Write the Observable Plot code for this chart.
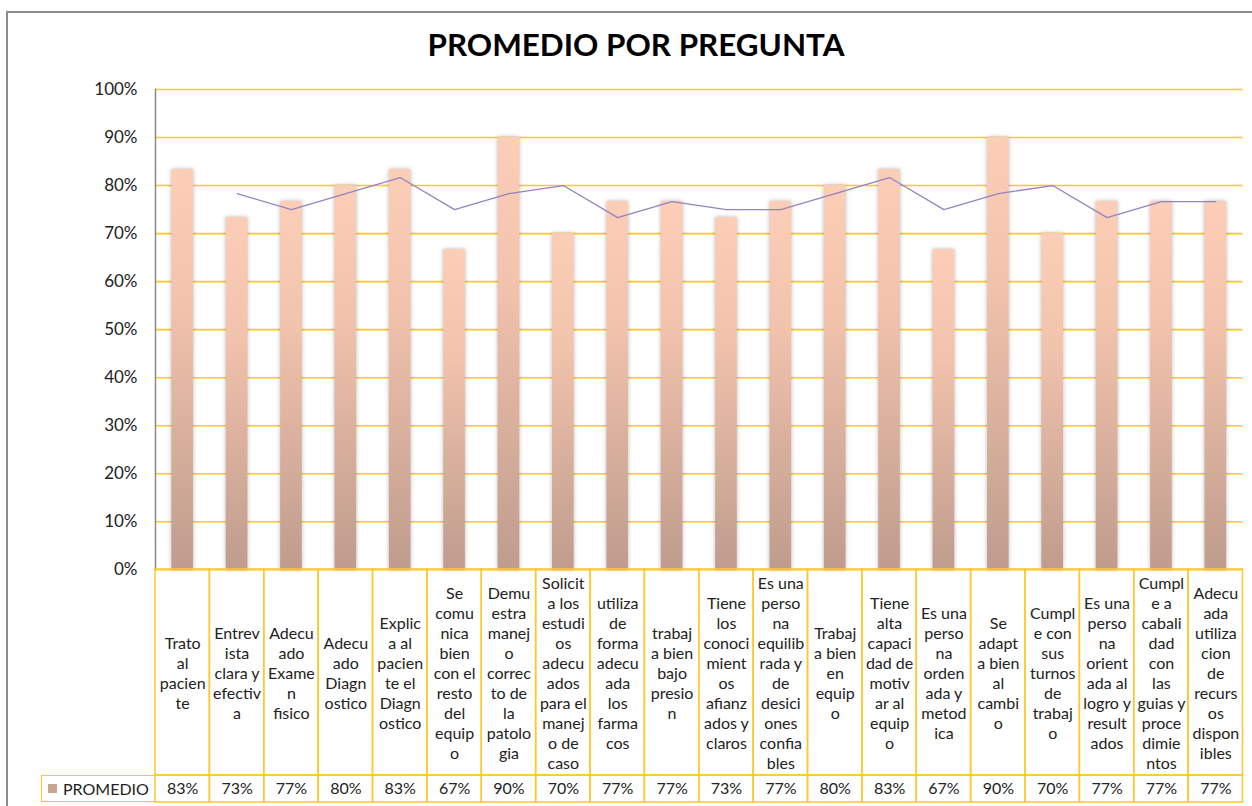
<!DOCTYPE html>
<html>
<head>
<meta charset="utf-8">
<script src="https://cdn.jsdelivr.net/npm/d3@7"></script>
<script src="https://cdn.jsdelivr.net/npm/@observablehq/plot@0.6"></script>
<style>
  html, body { margin: 0; padding: 0; background: #fff; overflow: hidden; }
  body { width: 1252px; height: 806px; position: relative; font-family: Lato, "Open Sans", sans-serif; }
  #frame { position: absolute; left: 6px; top: 11px; width: 1300px; height: 900px;
           border-top: 2px solid #8c8c8c; border-left: 2px solid #8c8c8c; }
  #title { position: absolute; left: 10px; top: 26px; width: 1252px; text-align: center;
           font: bold 31.4px Lato, sans-serif; line-height: 37px; color: #000; margin: 0; }
  .plotbox { position: absolute; left: 0; }
  #legend { position: absolute; left: 41px; top: 775px; width: 114px; height: 27px; box-sizing: border-box;
            border: 1.5px solid #FFC72C; border-right: none; font: 16px Lato, sans-serif; color: #222; }
  #legend .sw { position: absolute; left: 6px; top: 8px; width: 9px; height: 9px; background: #C9A594; }
  #legend .lb { position: absolute; left: 21px; top: 3px; line-height: 20px; }
</style>
</head>
<body>
<div id="frame"></div>
<div id="title">PROMEDIO POR PREGUNTA</div>
<div id="chart" class="plotbox" style="top:70px"></div>
<div id="labels" class="plotbox" style="top:569px"></div>
<div id="values" class="plotbox" style="top:775px"></div>
<div id="legend"><div class="sw"></div><div class="lb">PROMEDIO</div></div>
<script>
// ---- data ----
const questions = [
  "Trato al paciente",
  "Entrevista clara y efectiva",
  "Adecuado Examen fisico",
  "Adecuado Diagnostico",
  "Explica al paciente el Diagnostico",
  "Se comunica bien con el resto del equipo",
  "Demuestra manejo correcto de la patologia",
  "Solicita los estudios adecuados para el manejo de caso",
  "utiliza de forma adecuada los farmacos",
  "trabaja bien bajo presion",
  "Tiene los conocimientos afianzados y claros",
  "Es una persona equilibrada y de desiciones confiables",
  "Trabaja bien en equipo",
  "Tiene alta capacidad de motivar al equipo",
  "Es una persona ordenada y metodica",
  "Se adapta bien al cambio",
  "Cumple con sus turnos de trabajo",
  "Es una persona orientada al logro y resultados",
  "Cumple a cabalidad con las guias y procedimientos",
  "Adecuada utilizacion de recursos disponibles"
];
const tickLabels = [
  "Trato\nal\npacien\nte",
  "Entrev\nista\nclara y\nefectiv\na",
  "Adecu\nado\nExame\nn\nfisico",
  "Adecu\nado\nDiagn\nostico",
  "Explic\na al\npacien\nte el\nDiagn\nostico",
  "Se\ncomu\nnica\nbien\ncon el\nresto\ndel\nequip\no",
  "Demu\nestra\nmanej\no\ncorrec\nto de\nla\npatolo\ngia",
  "Solicit\na los\nestudi\nos\nadecu\nados\npara el\nmanej\no de\ncaso",
  "utiliza\nde\nforma\nadecu\nada\nlos\nfarma\ncos",
  "trabaj\na bien\nbajo\npresio\nn",
  "Tiene\nlos\nconoci\nmient\nos\nafianz\nados y\nclaros",
  "Es una\nperso\nna\nequilib\nrada y\nde\ndesici\nones\nconfia\nbles",
  "Trabaj\na bien\nen\nequip\no",
  "Tiene\nalta\ncapaci\ndad de\nmotiv\nar al\nequip\no",
  "Es una\nperso\nna\norden\nada y\nmetod\nica",
  "Se\nadapt\na bien\nal\ncambi\no",
  "Cumpl\ne con\nsus\nturnos\nde\ntrabaj\no",
  "Es una\nperso\nna\norient\nada al\nlogro y\nresult\nados",
  "Cumpl\ne a\ncabali\ndad\ncon\nlas\nguias y\nproce\ndimie\nntos",
  "Adecu\nada\nutiliza\ncion\nde\nrecurs\nos\ndispon\nibles"
];
const promedio = [0.8333, 0.7333, 0.7667, 0.80, 0.8333, 0.6667, 0.90, 0.70, 0.7667, 0.7667,
                  0.7333, 0.7667, 0.80, 0.8333, 0.6667, 0.90, 0.70, 0.7667, 0.7667, 0.7667];
// trend line (starts at the 2nd question)
const tendencia = [null, 0.7833, 0.75, 0.7833, 0.8167, 0.75, 0.7833, 0.80, 0.7333, 0.7667,
                   0.75, 0.75, 0.7833, 0.8167, 0.75, 0.7833, 0.80, 0.7333, 0.7667, 0.7667];
const yTicks = [0, 0.1, 0.2, 0.3, 0.4, 0.5, 0.6, 0.7, 0.8, 0.9, 1.0];
const seriesName = "PROMEDIO";

// ---- table built from arrays ----
const rows = questions.map((q, i) => ({q, label: tickLabels[i], v: promedio[i], t: tendencia[i]}));

const gold = "#FFC72C";
const W = 1252, ML = 155, MR = 9.5;
const pct = d3.format(".0%");
const xScale = {domain: questions, padding: 0, round: false, axis: null};

// ---- main chart ----
const chart = Plot.plot({
  width: W, height: 510,
  marginTop: 19, marginBottom: 10.7, marginLeft: ML, marginRight: MR,
  style: {fontFamily: "Lato, sans-serif", fontSize: "17px", color: "#222", background: "transparent"},
  x: xScale,
  y: {domain: [0, 1]},
  marks: [
    Plot.gridY(yTicks, {stroke: gold, strokeOpacity: 1, strokeWidth: 1.6}),
    Plot.axisY(yTicks, {tickFormat: pct, tickSize: 0, tickPadding: 18, fontSize: 17, label: null}),
    Plot.barY(rows, {x: "q", y: "v", fill: "url(#barGrad)", insetLeft: 16.4, insetRight: 16.4}),
    Plot.lineY(rows.filter(d => d.t != null), {x: "q", y: "t", stroke: "#9583BE", strokeWidth: 1.3}),
    Plot.frame({anchor: "left", stroke: "#8a8a8a", strokeWidth: 1.5})
  ]
});
const svg = d3.select(chart);
const grad = svg.insert("defs", ":first-child").append("linearGradient")
  .attr("id", "barGrad").attr("x1", 0).attr("y1", 0).attr("x2", 0).attr("y2", 1);
grad.append("stop").attr("offset", "0%").attr("stop-color", "#FCCEB7");
grad.append("stop").attr("offset", "35%").attr("stop-color", "#F1C2AC");
grad.append("stop").attr("offset", "100%").attr("stop-color", "#BF9C8D");
svg.selectAll('g[aria-label="bar"]').style("filter", "drop-shadow(0px 0px 2px rgba(0,0,0,0.28))");
document.getElementById("chart").appendChild(chart);

// ---- label row ----
const labelsPlot = Plot.plot({
  width: W, height: 206,
  marginTop: 0, marginBottom: 0, marginLeft: ML, marginRight: MR,
  style: {fontFamily: "Lato, sans-serif", fontSize: "16px", color: "#222", background: "transparent", overflow: "visible"},
  x: xScale,
  marks: [
    Plot.cell(rows, {x: "q", fill: "none", stroke: gold, strokeWidth: 1.5}),
    Plot.text(rows, {x: "q", text: "label", frameAnchor: "middle", lineAnchor: "middle",
                     lineHeight: 1.25, fontSize: 16, fill: "#222"})
  ]
});
document.getElementById("labels").appendChild(labelsPlot);

// ---- value row ----
const valuesPlot = Plot.plot({
  width: W, height: 27,
  marginTop: 0, marginBottom: 0, marginLeft: ML, marginRight: MR,
  style: {fontFamily: "Lato, sans-serif", fontSize: "16px", color: "#222", background: "transparent", overflow: "visible"},
  x: xScale,
  marks: [
    Plot.cell(rows, {x: "q", fill: "none", stroke: gold, strokeWidth: 1.5}),
    Plot.text(rows, {x: "q", text: d => pct(d.v), frameAnchor: "middle", fontSize: 16, fill: "#222"})
  ]
});
document.getElementById("values").appendChild(valuesPlot);
document.querySelector("#legend .lb").textContent = seriesName;
</script>
</body>
</html>
